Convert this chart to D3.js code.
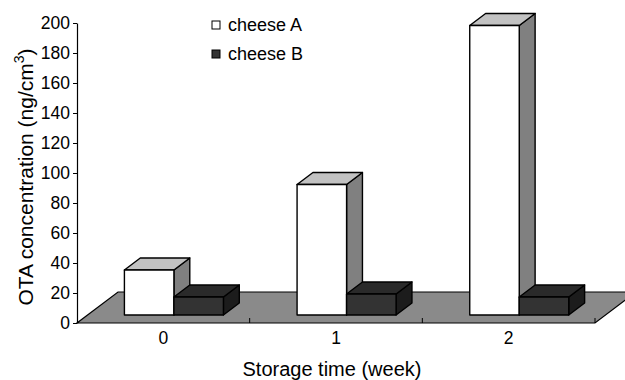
<!DOCTYPE html>
<html>
<head>
<meta charset="utf-8">
<script src="https://cdn.jsdelivr.net/npm/d3@7"></script>
<style>
  body { margin: 0; background: #fff; }
  text { font-family: "Liberation Sans", Arial, sans-serif; fill: #000; }
</style>
</head>
<body>
<div id="chart"></div>
<script>
// Data
const weeks = ["0", "1", "2"];
const cheeseA = [30, 87, 193];
const cheeseB = [12, 14, 12];
const yTicks = [0, 20, 40, 60, 80, 100, 120, 140, 160, 180, 200];
const seriesNames = ["cheese A", "cheese B"];

const W = 625, H = 380;

const svg = d3.select("#chart")
  .append("svg")
    .attr("width", W)
    .attr("height", H);

// Scales
const y = d3.scaleLinear().domain([0, 200]).range([323, 23]);
const x = d3.scaleBand().domain(weeks).range([77, 595]).padding(0);
const xs = d3.scaleBand().domain(seriesNames).range([0, x.bandwidth()])
  .paddingInner(0).paddingOuter(0.744);

// Depth projection: z is depth in px (upwards), x shifts by kx per px
const floorDepth = 31, kx = 41 / 31;
const z0 = 8, z1 = 20;
const P = (px, py, z) => [px + z * kx, py - z];

// Floor
const x0 = x.range()[0], x1 = x.range()[1], yb = y(0);
svg.append("polygon")
  .attr("points", [P(x0, yb, 0), P(x1, yb, 0), P(x1, yb, floorDepth), P(x0, yb, floorDepth)].join(" "))
  .attr("fill", "#8a8a8a")
  .attr("stroke", "#000")
  .attr("stroke-width", 1.2);

// Category ticks on the front edge of the floor
svg.append("g")
  .selectAll("line")
  .data(weeks.map(w => x(w)).concat([x1]).slice(1))
  .join("line")
    .attr("x1", d => d).attr("x2", d => d)
    .attr("y1", yb).attr("y2", yb - 5)
    .attr("stroke", "#000");

// Bars
const styles = {
  "cheese A": {front: "#ffffff", top: "#c2c2c2", side: "#808080"},
  "cheese B": {front: "#333333", top: "#2a2a2a", side: "#1c1c1c"}
};

const bars = [];
weeks.forEach((w, i) => {
  bars.push({week: w, s: "cheese A", v: cheeseA[i]});
  bars.push({week: w, s: "cheese B", v: cheeseB[i]});
});

const barG = svg.append("g");
bars.forEach(d => {
  const left = x(d.week) + xs(d.s);
  const right = left + xs.bandwidth();
  const top = y(d.v), bot = y(0);
  const st = styles[d.s];
  const g = barG.append("g")
    .attr("stroke", "#000")
    .attr("stroke-width", 1.4)
    .attr("stroke-linejoin", "round");
  // side face
  g.append("polygon")
    .attr("points", [P(right, bot, z0), P(right, bot, z1), P(right, top, z1), P(right, top, z0)].join(" "))
    .attr("fill", st.side);
  // top face
  g.append("polygon")
    .attr("points", [P(left, top, z0), P(right, top, z0), P(right, top, z1), P(left, top, z1)].join(" "))
    .attr("fill", st.top);
  // front face
  g.append("polygon")
    .attr("points", [P(left, bot, z0), P(right, bot, z0), P(right, top, z0), P(left, top, z0)].join(" "))
    .attr("fill", st.front);
});

// Y axis
const yAxis = svg.append("g")
  .attr("transform", `translate(${x0},0)`)
  .call(d3.axisLeft(y).tickValues(yTicks).tickSize(4).tickSizeOuter(0).tickPadding(3));
yAxis.select(".domain").attr("stroke", "#000").attr("stroke-width", 1.2);
yAxis.selectAll(".tick line").attr("stroke", "#000");
yAxis.selectAll(".tick text")
  .style("font-family", '"Liberation Sans", Arial, sans-serif')
  .style("font-size", "17.5px")
  .attr("fill", "#000");

// X tick labels
svg.append("g")
  .selectAll("text")
  .data(weeks)
  .join("text")
    .attr("x", d => x(d) + x.bandwidth() / 2)
    .attr("y", 344)
    .attr("text-anchor", "middle")
    .style("font-size", "17.5px")
    .text(d => d);

// X axis title
svg.append("text")
  .attr("x", 332)
  .attr("y", 376)
  .attr("text-anchor", "middle")
  .style("font-size", "20px")
  .text("Storage time (week)");

// Y axis title
const yt = svg.append("text")
  .attr("transform", "translate(33,177) rotate(-90)")
  .attr("text-anchor", "middle")
  .style("font-size", "21px");
yt.append("tspan").text("OTA concentration (ng/cm");
yt.append("tspan").attr("dy", -9).style("font-size", "14px").text("3");
yt.append("tspan").attr("dy", 9).text(")");

// Legend
const legend = svg.append("g");
seriesNames.forEach((s, i) => {
  legend.append("rect")
    .attr("x", 212).attr("y", 21 + i * 29)
    .attr("width", 8).attr("height", 8)
    .attr("fill", styles[s].front)
    .attr("stroke", "#000");
  legend.append("text")
    .attr("x", 228).attr("y", 31 + i * 29)
    .style("font-size", "18px")
    .text(s);
});
</script>
</body>
</html>
